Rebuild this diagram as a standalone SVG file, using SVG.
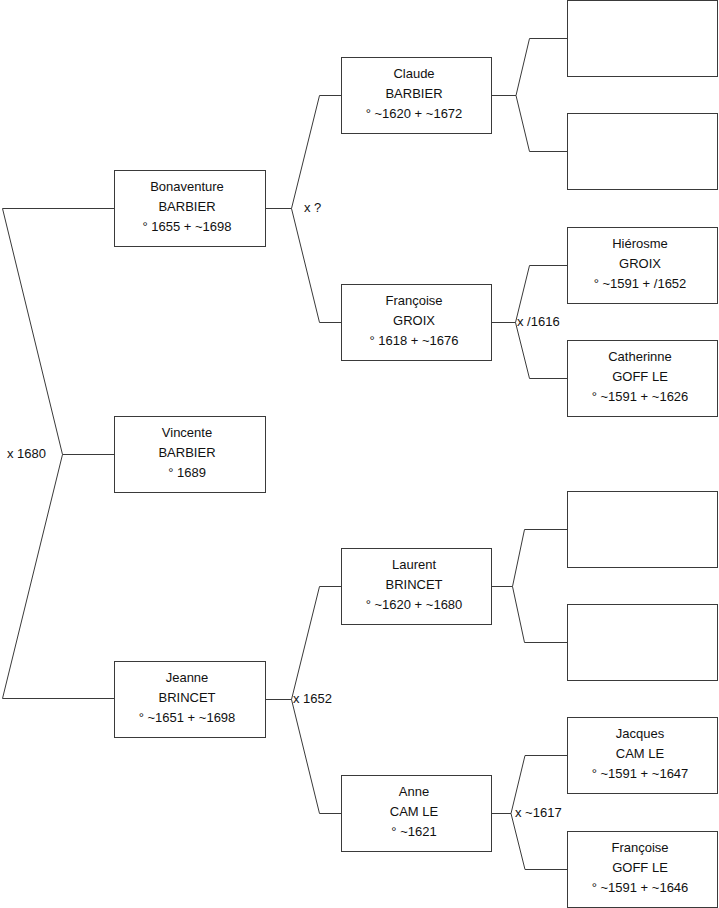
<svg xmlns="http://www.w3.org/2000/svg" width="719" height="908" viewBox="0 0 719 908">
<style>
.box{fill:#fff;stroke:#3a3a3a;stroke-width:1}
.t{font-family:"Liberation Sans",Arial,sans-serif;font-size:13px;fill:#111;text-anchor:middle}
.l{font-family:"Liberation Sans",Arial,sans-serif;font-size:13px;fill:#111}
.c{fill:none;stroke:#3a3a3a;stroke-width:1}
</style>
<rect width="719" height="908" fill="#fff"/>
<g id="connectors">
<path class="c" d="M114.5,208.5 H2.5 L62.5,454.5 L2.5,698.5 H114.5 M62.5,454.5 H114.5"/>
<path class="c" d="M265.5,208.5 H291.5 M341.5,95.5 H319.5 L291.5,208.5 L319.5,322.5 H341.5"/>
<path class="c" d="M491.5,95.5 H516 M567.5,38.5 H529.5 L516,95.5 L529.5,151.5 H567.5"/>
<path class="c" d="M491.5,322.5 H515.5 M567.5,265.5 H529.5 L515.5,322.5 L529.5,378.5 H567.5"/>
<path class="c" d="M265.5,699.5 H291.5 M341.5,586.5 H319.5 L291.5,699.5 L319.5,813.5 H341.5"/>
<path class="c" d="M491.5,586.5 H512.5 M567.5,529.5 H524.5 L512.5,586.5 L524.5,642.5 H567.5"/>
<path class="c" d="M491.5,813.5 H511 M567.5,755.5 H525 L511,813.5 L525,869.5 H567.5"/>
<text class="l" x="7" y="458">x 1680</text>
<text class="l" x="304" y="212">x ?</text>
<text class="l" x="517" y="326">x /1616</text>
<text class="l" x="293" y="703">x 1652</text>
<text class="l" x="515" y="817">x ~1617</text>
</g>
<g id="bonaventure"><rect class="box" x="114.5" y="170.5" width="151" height="76"/><text class="t" x="187" y="191">Bonaventure</text><text class="t" x="187" y="211">BARBIER</text><text class="t" x="187" y="231">° 1655 + ~1698</text></g>
<g id="vincente"><rect class="box" x="114.5" y="416.5" width="151" height="76"/><text class="t" x="187" y="437">Vincente</text><text class="t" x="187" y="457">BARBIER</text><text class="t" x="187" y="477">° 1689</text></g>
<g id="jeanne"><rect class="box" x="114.5" y="661.5" width="151" height="76"/><text class="t" x="187" y="682">Jeanne</text><text class="t" x="187" y="702">BRINCET</text><text class="t" x="187" y="722">° ~1651 + ~1698</text></g>
<g id="claude"><rect class="box" x="341.5" y="57.5" width="150" height="76"/><text class="t" x="414" y="78">Claude</text><text class="t" x="414" y="98">BARBIER</text><text class="t" x="414" y="118">° ~1620 + ~1672</text></g>
<g id="francoise-groix"><rect class="box" x="341.5" y="284.5" width="150" height="76"/><text class="t" x="414" y="305">Françoise</text><text class="t" x="414" y="325">GROIX</text><text class="t" x="414" y="345">° 1618 + ~1676</text></g>
<g id="laurent"><rect class="box" x="341.5" y="548.5" width="150" height="76"/><text class="t" x="414" y="569">Laurent</text><text class="t" x="414" y="589">BRINCET</text><text class="t" x="414" y="609">° ~1620 + ~1680</text></g>
<g id="anne"><rect class="box" x="341.5" y="775.5" width="150" height="76"/><text class="t" x="414" y="796">Anne</text><text class="t" x="414" y="816">CAM LE</text><text class="t" x="414" y="836">° ~1621</text></g>
<g id="empty1"><rect class="box" x="567.5" y="0.5" width="150" height="76"/></g>
<g id="empty2"><rect class="box" x="567.5" y="113.5" width="150" height="76"/></g>
<g id="hierosme"><rect class="box" x="567.5" y="227.5" width="150" height="76"/><text class="t" x="640" y="248">Hiérosme</text><text class="t" x="640" y="268">GROIX</text><text class="t" x="640" y="288">° ~1591 + /1652</text></g>
<g id="catherinne"><rect class="box" x="567.5" y="340.5" width="150" height="76"/><text class="t" x="640" y="361">Catherinne</text><text class="t" x="640" y="381">GOFF LE</text><text class="t" x="640" y="401">° ~1591 + ~1626</text></g>
<g id="empty3"><rect class="box" x="567.5" y="491.5" width="150" height="76"/></g>
<g id="empty4"><rect class="box" x="567.5" y="604.5" width="150" height="76"/></g>
<g id="jacques"><rect class="box" x="567.5" y="717.5" width="150" height="76"/><text class="t" x="640" y="738">Jacques</text><text class="t" x="640" y="758">CAM LE</text><text class="t" x="640" y="778">° ~1591 + ~1647</text></g>
<g id="francoise-goff"><rect class="box" x="567.5" y="831.5" width="150" height="76"/><text class="t" x="640" y="852">Françoise</text><text class="t" x="640" y="872">GOFF LE</text><text class="t" x="640" y="892">° ~1591 + ~1646</text></g>
</svg>
